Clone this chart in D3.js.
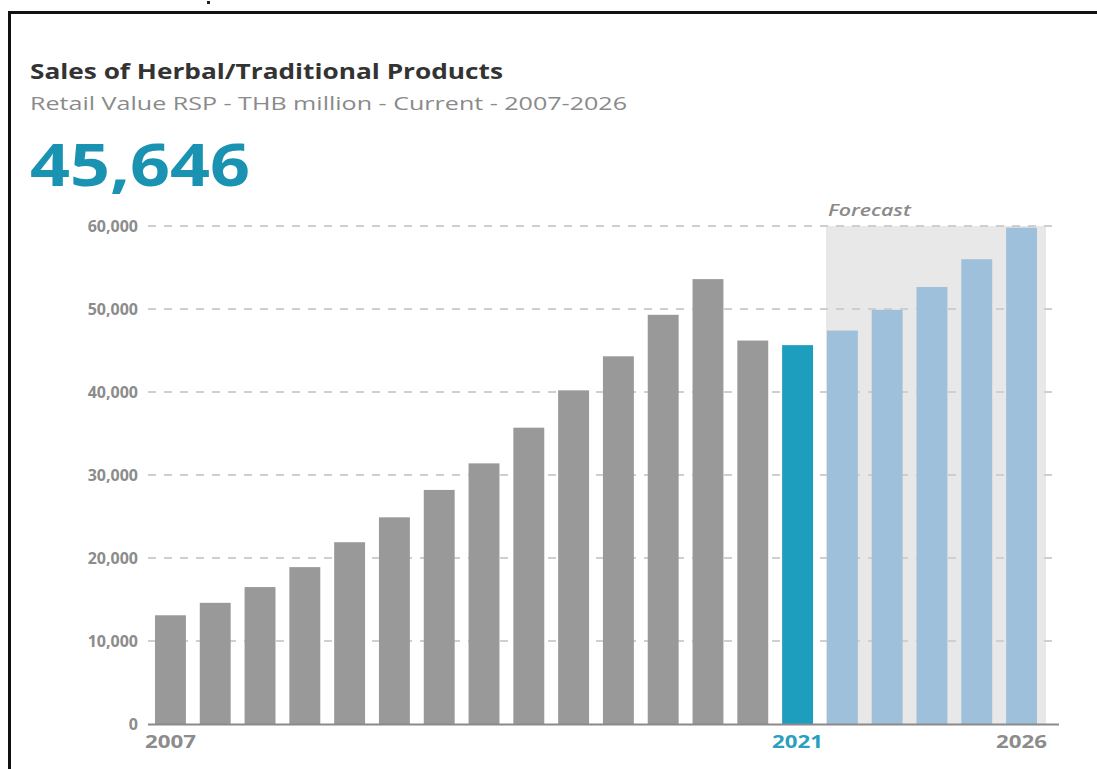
<!DOCTYPE html>
<html><head><meta charset="utf-8">
<script src="https://cdn.jsdelivr.net/npm/d3@7"></script>
<style>
html,body{margin:0;padding:0;background:#fff;}
svg{display:block;font-family:"Open Sans",sans-serif;}
</style></head>
<body><svg id="c" width="1097" height="769"></svg>
<script>
const years = [2007,2008,2009,2010,2011,2012,2013,2014,2015,2016,2017,2018,2019,2020,2021,2022,2023,2024,2025,2026];
const values = [13100,14600,16500,18900,21900,24900,28200,31400,35700,40200,44300,49300,53600,46200,45646,47400,49900,52650,56000,59800];
const forecastYears = [2022,2023,2024,2025,2026];
const highlightYear = 2021;
const yTicks = [0,10000,20000,30000,40000,50000,60000];
const xLabelYears = [2007,2021,2026];
const title = "Sales of Herbal/Traditional Products";
const subtitle = "Retail Value RSP - THB million - Current - 2007-2026";
const headline = "45,646";

const svg = d3.select("#c");

// frame (scan border)
svg.append("line").attr("x1",8).attr("x2",1097).attr("y1",12.5).attr("y2",12.5).attr("stroke","#111").attr("stroke-width",3);
svg.append("line").attr("x1",9.5).attr("x2",9.5).attr("y1",11).attr("y2",769).attr("stroke","#111").attr("stroke-width",3);
svg.append("rect").attr("x",207).attr("y",1).attr("width",3).attr("height",3).attr("fill","#222");

svg.append("text").attr("x",30).attr("y",79).attr("font-size",21).attr("font-weight",700).attr("fill","#333")
  .attr("textLength",473).attr("lengthAdjust","spacingAndGlyphs").text(title);
svg.append("text").attr("x",30).attr("y",110).attr("font-size",18.5).attr("fill","#8a8a8a")
  .attr("textLength",597).attr("lengthAdjust","spacingAndGlyphs").text(subtitle);
svg.append("text").attr("x",30).attr("y",186).attr("font-size",59).attr("font-weight",700).attr("fill","#1a93b3")
  .attr("textLength",220).attr("lengthAdjust","spacingAndGlyphs").text(headline);

const x = d3.scaleBand().domain(years).range([148,1044]).paddingInner(0.31).paddingOuter(0.156);
const y = d3.scaleLinear().domain([0,60000]).range([724,226]);

// forecast band
const fx0 = x(forecastYears[0]) - 1;
svg.append("rect").attr("x",fx0).attr("y",y(60000)).attr("width",1046-fx0).attr("height",y(0)-y(60000)).attr("fill","#e8e8e8");
svg.append("text").attr("x",fx0+2).attr("y",216).attr("font-size",17).attr("font-style","italic").attr("font-weight",600).attr("fill","#8a8a8a")
  .attr("textLength",83).attr("lengthAdjust","spacingAndGlyphs").text("Forecast");

// gridlines
svg.append("g").selectAll("line").data(yTicks.filter(d=>d>0)).join("line")
  .attr("x1",148).attr("x2",1053).attr("y1",d=>y(d)).attr("y2",d=>y(d))
  .attr("stroke","#cfcfcf").attr("stroke-width",2).attr("stroke-dasharray","8,8");

// bars
svg.append("g").selectAll("rect").data(years).join("rect")
  .attr("x",d=>x(d)).attr("width",x.bandwidth())
  .attr("y",(d,i)=>y(values[i])).attr("height",(d,i)=>y(0)-y(values[i]))
  .attr("fill",d=> d===highlightYear ? "#1d9ebf" : (forecastYears.includes(d) ? "#9fc0da" : "#999999"));

// y axis
const yAxis = d3.axisLeft(y).tickValues(yTicks).tickSize(0).tickPadding(0).tickFormat(d3.format(","));
const gy = svg.append("g").attr("transform","translate(138,0)").call(yAxis);
gy.select(".domain").remove();
gy.selectAll("text").attr("font-size",16).attr("font-weight",700).attr("fill","#8c8c8c").attr("font-family","Open Sans, sans-serif")
  .attr("dy","0.36em");

// x axis
const xAxis = d3.axisBottom(x).tickValues(xLabelYears).tickSize(0).tickPadding(12);
const gx = svg.append("g").attr("transform","translate(0,724)").call(xAxis);
gx.select(".domain").remove();
gx.selectAll("text").attr("font-size",17).attr("font-weight",700).attr("font-family","Open Sans, sans-serif")
  .attr("fill",d=> d===highlightYear ? "#2a9fbf" : "#8c8c8c")
  .attr("textLength",51).attr("lengthAdjust","spacingAndGlyphs")
  .attr("x",-25.5).attr("text-anchor","start");
svg.append("line").attr("x1",148).attr("x2",1059).attr("y1",724.5).attr("y2",724.5).attr("stroke","#8a8a8a").attr("stroke-width",2);
</script></body></html>
